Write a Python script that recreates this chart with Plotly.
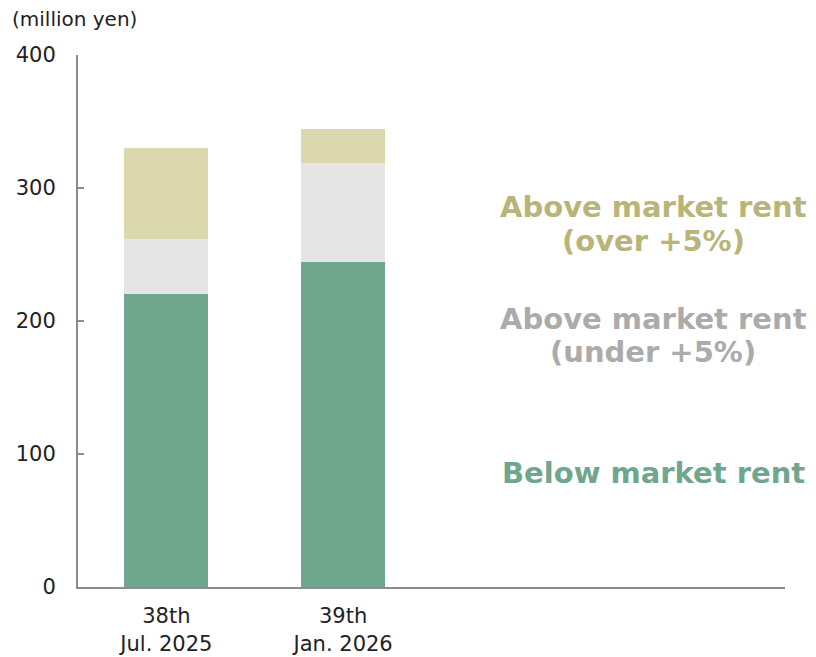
import plotly.graph_objects as go

# data (million yen)
periods = ["38th<br>Jul. 2025", "39th<br>Jan. 2026"]
below_market = [220, 244]
above_under5 = [42, 75]
above_over5 = [68, 25]

series_names = ["Below market rent", "Above market rent (under +5%)", "Above market rent (over +5%)"]
bar_colors = ["#6FA68E", "#E5E5E5", "#DBD8AD"]

font_family = "DejaVu Sans, Verdana, sans-serif"

# the page puts the figure 8px in from the top-left corner
W, H = 800, 649
L, R, T, B = 70, 23, 47, 70
pw, ph = W - L - R, H - T - B


def px_x(sx):
    return (sx - 8 - L) / pw


def px_y(sy):
    return (H - B - (sy - 8)) / ph


fig = go.Figure()
for name, vals, col in zip(series_names, [below_market, above_under5, above_over5], bar_colors):
    fig.add_trace(go.Bar(x=periods, y=vals, name=name, marker=dict(color=col, line=dict(width=0)),
                         showlegend=False, hoverinfo="skip"))

# labels on the right, standing in for a legend
labels = [
    ("Above market rent", 207, "#B8B57A"),
    ("(over +5%)", 241, "#B8B57A"),
    ("Above market rent", 319, "#ABABAB"),
    ("(under +5%)", 352, "#ABABAB"),
    ("Below market rent", 473, "#6FA68E"),
]
for txt, sy, col in labels:
    fig.add_annotation(text="<b>" + txt + "</b>", xref="paper", yref="paper",
                       x=px_x(653), y=px_y(sy), xanchor="center", yanchor="middle",
                       showarrow=False, font=dict(size=29, color=col, family=font_family))

fig.add_annotation(text="(million yen)", xref="paper", yref="paper", x=px_x(11), y=px_y(19),
                   xanchor="left", yanchor="middle", showarrow=False, borderpad=0,
                   font=dict(size=20, color="#222222", family=font_family))

fig.update_layout(
    width=W, height=H,
    margin=dict(l=L, r=R, t=T, b=B, autoexpand=False),
    barmode="stack", bargap=0.525,
    plot_bgcolor="white", paper_bgcolor="white",
    font=dict(family=font_family, size=21, color="#222222"),
    xaxis=dict(range=[-0.5, 3.5], showline=True, linecolor="#8C8C8C", linewidth=2,
               ticks="", showgrid=False, tickfont=dict(size=21), ticklabelstandoff=9,
               automargin=False),
    yaxis=dict(range=[0, 400], tickvals=[0, 100, 200, 300, 400], showline=True,
               linecolor="#8C8C8C", linewidth=2, ticks="inside", ticklen=6, tickcolor="#8C8C8C",
               tickwidth=2, showgrid=False, zeroline=False, ticklabelstandoff=16,
               tickfont=dict(size=21), automargin=False),
)

fig.write_html("out.html")
